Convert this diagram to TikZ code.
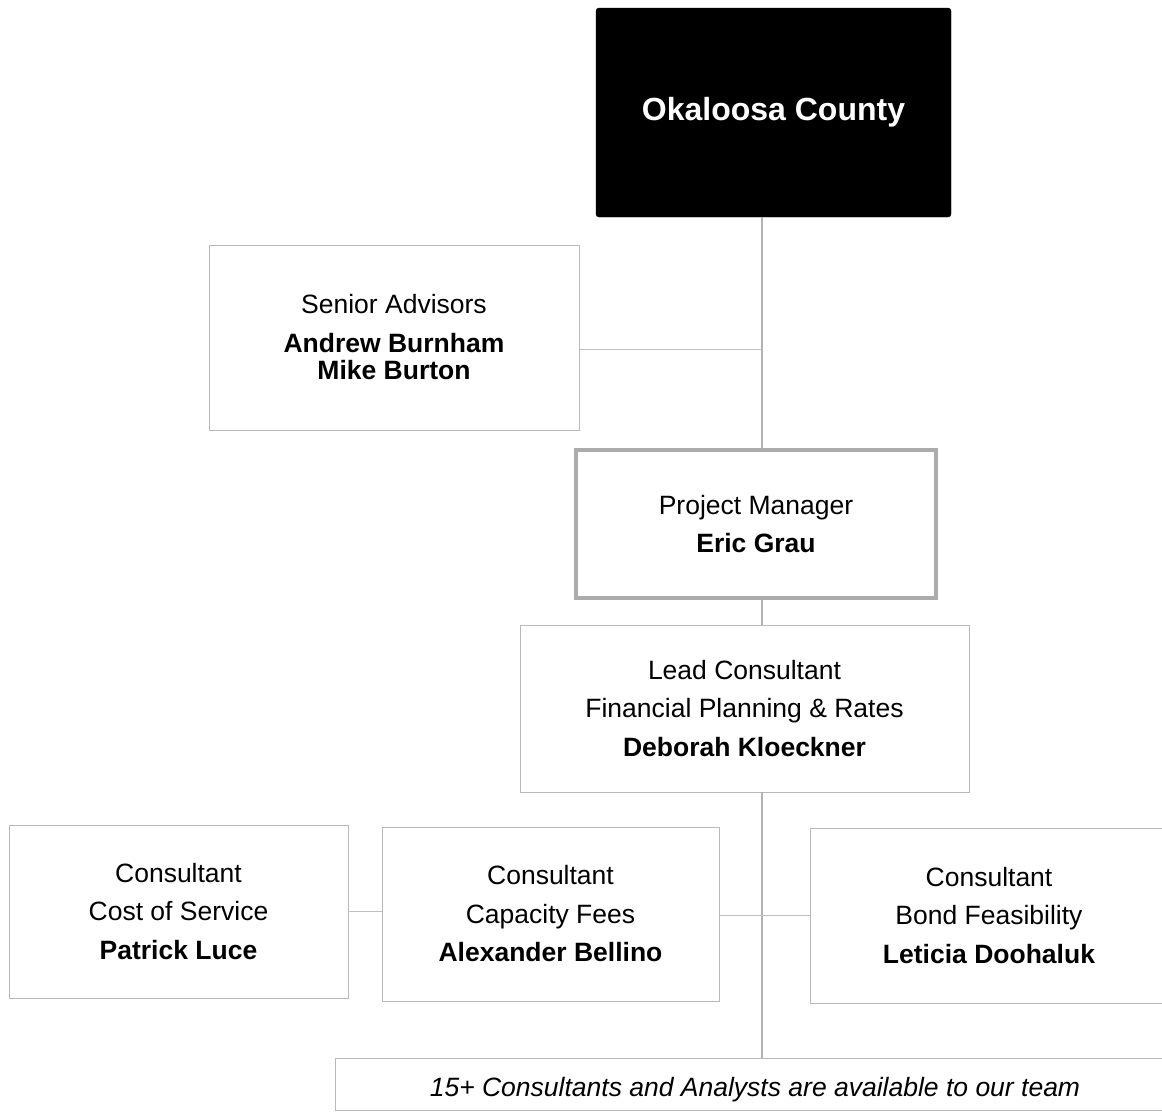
\documentclass[tikz,border=0pt]{standalone}
\usepackage{fontspec}
\setmainfont{Liberation Sans}
\tikzset{
  box/.style={rectangle, draw=gray!55, line width=0.7pt, align=center, inner sep=0pt,
    font=\fontsize{26.5}{38.5}\selectfont},
  headbox/.style={rectangle, fill=black, draw=black, rounded corners=3pt, text=white,
    font=\fontsize{32}{38}\selectfont\bfseries},
  pmbox/.style={box, draw=gray!65, line width=3.5pt},
  link/.style={draw=gray!60, line width=2.5pt},
  thinlink/.style={draw=gray!50, line width=0.8pt}
}

\begin{document}
\begin{tikzpicture}[x=1pt,y=-1pt]
    \useasboundingbox (0,0) rectangle (1162,1112);
    \node[headbox, minimum width=355pt, minimum height=209pt] (county) at (773.5,112.5) {Okaloosa County};
    \node[box, minimum width=370pt, minimum height=185pt] (senior) at (394,337.5)
      {Senior Advisors\\ \textbf{Andrew Burnham}\\[-11pt] \textbf{Mike Burton}};
    \node[pmbox, minimum width=360pt, minimum height=148pt] (pm) at (756,524)
      {Project Manager\\ \textbf{Eric Grau}};
    \node[box, minimum width=449pt, minimum height=167pt] (lead) at (744.5,708.5)
      {Lead Consultant\\ Financial Planning \& Rates\\ \textbf{Deborah Kloeckner}};
    \node[box, minimum width=339pt, minimum height=173pt] (cost) at (178.5,911.5)
      {Consultant\\ Cost of Service\\ \textbf{Patrick Luce}};
    \node[box, minimum width=337pt, minimum height=174pt] (capacity) at (550.5,914)
      {Consultant\\ Capacity Fees\\ \textbf{Alexander Bellino}};
    \node[box, minimum width=358pt, minimum height=175pt] (bond) at (989,915.5)
      {Consultant\\ Bond Feasibility\\ \textbf{Leticia Doohaluk}};
    \node[box, minimum width=840pt, minimum height=52pt, text height=30pt, text depth=6pt] (team) at (755,1084)
      {\itshape 15+ Consultants and Analysts are available to our team};
    % spine of the chart
    \coordinate (spine) at (762,0);
    \coordinate (sjoin) at (762,349);
    \draw[link] (county.south -| spine) -- (pm.north -| spine);
    \draw[link] (pm.south -| spine) -- (lead.north -| spine);
    \draw[link] (lead.south -| spine) -- (team.north -| spine);
    \draw[thinlink] (senior.east |- sjoin) -- (sjoin);
    \draw[thinlink] (cost.east) -- (cost.east -| capacity.west);
    \draw[thinlink] (capacity.east |- bond.west) -- (bond.west);
\end{tikzpicture}
\end{document}
